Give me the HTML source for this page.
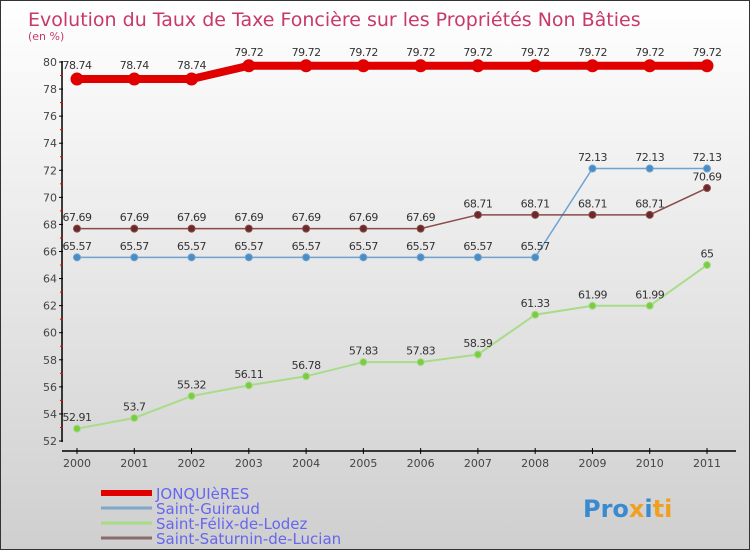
<!DOCTYPE html>
<html><head><meta charset="utf-8"><style>
body{margin:0;}
#c{position:relative;width:750px;height:550px;box-sizing:border-box;border:1px solid #333;background:linear-gradient(#ffffff,#cfcfcf);font-family:"DejaVu Sans","Liberation Sans",sans-serif;overflow:hidden}
</style></head><body>
<div id="c">
<svg id="s" width="750" height="550" style="position:absolute;left:0;top:0"></svg>
</div>
<script>
const years=["2000","2001","2002","2003","2004","2005","2006","2007","2008","2009","2010","2011"];
const jonq=[78.74,78.74,78.74,79.72,79.72,79.72,79.72,79.72,79.72,79.72,79.72,79.72];
const guiraud=[65.57,65.57,65.57,65.57,65.57,65.57,65.57,65.57,65.57,72.13,72.13,72.13];
const felix=[52.91,53.7,55.32,56.11,56.78,57.83,57.83,58.39,61.33,61.99,61.99,65];
const saturnin=[67.69,67.69,67.69,67.69,67.69,67.69,67.69,68.71,68.71,68.71,68.71,70.69];
const yTicks=[52,54,56,58,60,62,64,66,68,70,72,74,76,78,80];
const NS="http://www.w3.org/2000/svg",s=document.getElementById('s');
const X=i=>76+i*(630/11), Y=v=>440-(v-52)*(379/28);
function el(t,a,txt){const e=document.createElementNS(NS,t);for(const k in a)e.setAttribute(k,a[k]);if(txt!==undefined)e.textContent=txt;s.appendChild(e);return e;}
let t=el('text',{x:27,y:25,fill:'#c8386a','font-size':19},'Evolution du Taux de Taxe Foncière sur les Propriétés Non Bâties');

t=el('text',{x:27,y:39,fill:'#c8386a','font-size':11},'(en %)');

let a=el('line',{x1:61,y1:60,x2:61,y2:441,stroke:'#000','stroke-width':1.5});

a=el('line',{x1:61,y1:450,x2:735,y2:450,stroke:'#000','stroke-width':1.5});

yTicks.forEach(v=>{const y=Y(v);
 el('line',{x1:58,y1:y,x2:62,y2:y,stroke:'#000'});
 if(v<80) el('line',{x1:59,y1:Y(v+1),x2:62,y2:Y(v+1),stroke:'#e00'});
 const l=el('text',{x:56,y:y+4,'text-anchor':'end','font-size':11,fill:'#444'},v);
 });
years.forEach((yr,i)=>{el('line',{x1:X(i),y1:447,x2:X(i),y2:453,stroke:'#000'});
 const l=el('text',{x:X(i),y:466,'text-anchor':'middle','font-size':11,fill:'#444'},yr);
 });
function series(name,vals,color,fill,w,r){
 const p=el('polyline',{points:vals.map((v,i)=>X(i)+','+Y(v)).join(' '),fill:'none',stroke:color,'stroke-width':w});
 
 vals.forEach((v,i)=>{const c=el('circle',{cx:X(i),cy:Y(v),r:r,fill:fill,stroke:color,'stroke-width':1});
  
  const l=el('text',{x:X(i),y:Y(v)-r-4,'text-anchor':'middle','font-size':11,fill:'#333','letter-spacing':-0.5},v);
  });
}
series('saint-guiraud',guiraud,'#6fa3cf','#4a8cc4',1.5,3.5);
series('saint-felix-de-lodez',felix,'#a8dc88','#7acc44',2,3.5);
series('saint-saturnin-de-lucian',saturnin,'#8a4a4a','#6a2a2a',1.5,3.5);
series('jonquieres',jonq,'#e00000','#e00000',8,6);
const leg=[['JONQUIèRES','#e00000',6],['Saint-Guiraud','#7fa8c8',3],['Saint-Félix-de-Lodez','#a8dc88',3],['Saint-Saturnin-de-Lucian','#8a6a6a',3]];
leg.forEach((d,i)=>{const y=492+i*15;
 const ln=el('line',{x1:100,y1:y,x2:151,y2:y,stroke:d[1],'stroke-width':d[2]});
 
 const l=el('text',{x:155,y:y+6,'font-size':15,fill:'#6666ee'},d[0]);
 });
const lg=el('text',{x:582,y:516,'font-size':24,'font-weight':'bold',fill:'#3a8ad0'});

lg.innerHTML='Pro<tspan fill="#f0a020">x</tspan><tspan fill="#3a8ad0">i</tspan><tspan fill="#f0a020">ti</tspan>';
</script>
</body></html>
